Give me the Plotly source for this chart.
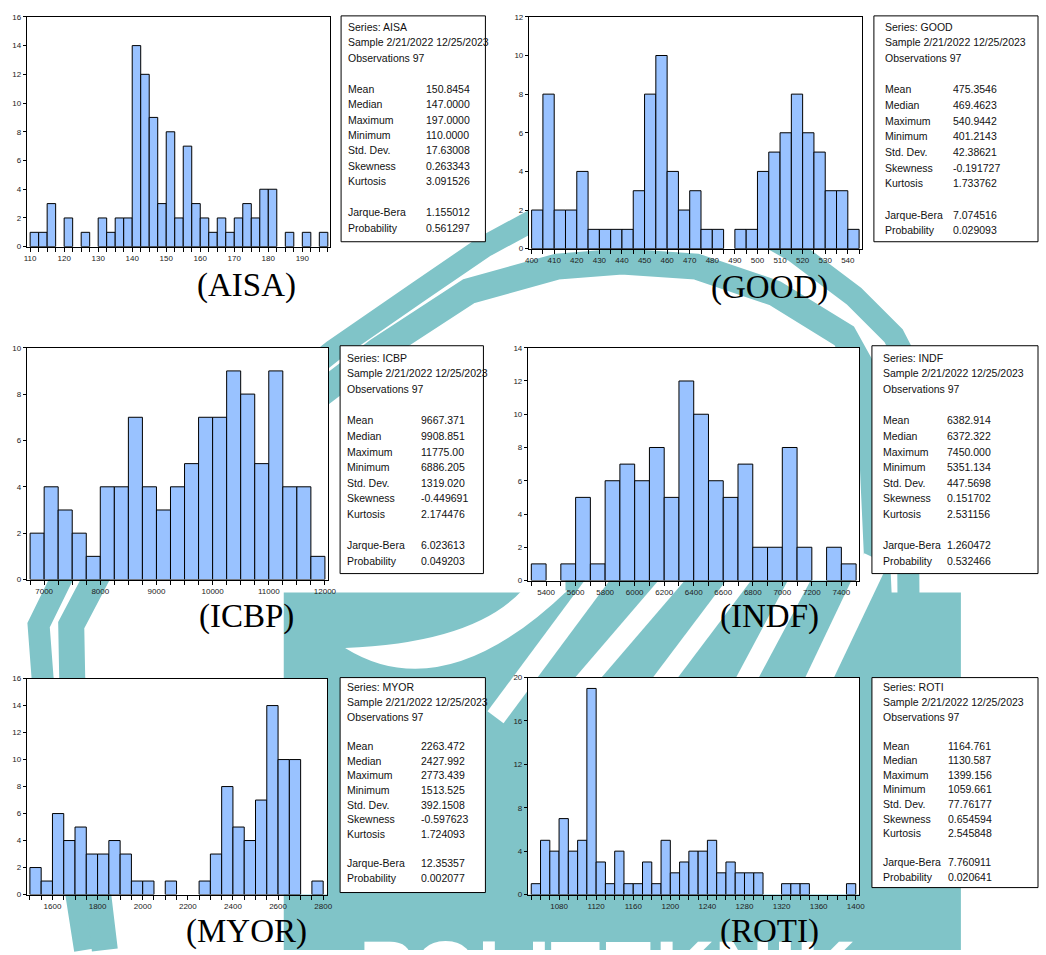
import plotly.graph_objects as go

W, H = 1046, 955

# ---------------- data ----------------
AISA_BIN_START, AISA_BIN_WIDTH = 110.0, 2.5
AISA_COUNTS = [1, 1, 3, 0, 2, 0, 1, 0, 2, 1, 2, 2, 14, 12, 9, 3, 8, 2, 7, 3, 2, 1, 2, 1,
               2, 3, 2, 4, 4, 0, 1, 0, 1, 0, 1]
GOOD_BIN_START, GOOD_BIN_WIDTH = 400.0, 5.0
GOOD_COUNTS = [2, 8, 2, 2, 4, 1, 1, 1, 1, 3, 8, 10, 4, 2, 3, 1, 1, 0, 1, 1, 4, 5, 6, 8, 6, 5, 3, 3, 1]
ICBP_BIN_START, ICBP_BIN_WIDTH = 6750.0, 250.0
ICBP_COUNTS = [2, 4, 3, 2, 1, 4, 4, 7, 4, 3, 4, 5, 7, 7, 9, 8, 5, 9, 4, 4, 1]
INDF_BIN_START, INDF_BIN_WIDTH = 5300.0, 100.0
INDF_COUNTS = [1, 0, 1, 5, 1, 6, 7, 6, 8, 5, 12, 10, 6, 5, 7, 2, 2, 8, 2, 0, 2, 1]
MYOR_BIN_START, MYOR_BIN_WIDTH = 1500.0, 50.0
MYOR_COUNTS = [2, 1, 6, 4, 5, 3, 3, 4, 3, 1, 1, 0, 1, 0, 0, 1, 3, 8, 5, 4, 7, 14, 10, 10, 0, 1]
ROTI_BIN_START, ROTI_BIN_WIDTH = 1050.0, 10.0
ROTI_COUNTS = [1, 5, 4, 7, 4, 5, 19, 3, 1, 4, 1, 1, 3, 1, 5, 2, 3, 4, 4, 5, 2, 3, 2, 2, 2,
               0, 0, 1, 1, 1, 0, 0, 0, 0, 1]

SAMPLE_TEXT = "Sample 2/21/2022 12/25/2023"
OBS_TEXT = "Observations 97"
STAT_LABELS = ["Mean", "Median", "Maximum", "Minimum", "Std. Dev.", "Skewness", "Kurtosis",
               "Jarque-Bera", "Probability"]
AISA_STATS = ["150.8454", "147.0000", "197.0000", "110.0000", "17.63008", "0.263343", "3.091526", "1.155012", "0.561297"]
GOOD_STATS = ["475.3546", "469.4623", "540.9442", "401.2143", "42.38621", "-0.191727", "1.733762", "7.074516", "0.029093"]
ICBP_STATS = ["9667.371", "9908.851", "11775.00", "6886.205", "1319.020", "-0.449691", "2.174476", "6.023613", "0.049203"]
INDF_STATS = ["6382.914", "6372.322", "7450.000", "5351.134", "447.5698", "0.151702", "2.531156", "1.260472", "0.532466"]
MYOR_STATS = ["2263.472", "2427.992", "2773.439", "1513.525", "392.1508", "-0.597623", "1.724093", "12.35357", "0.002077"]
ROTI_STATS = ["1164.761", "1130.587", "1399.156", "1059.661", "77.76177", "0.654594", "2.545848", "7.760911", "0.020641"]

# axis settings: (x range, major tick0, major dtick, y max, y dtick)
AISA_AXIS = ([109.0, 198.2], 110, 10, 16, 2)
GOOD_AXIS = ([398.8, 546.3], 400, 10, 12, 2)
ICBP_AXIS = ([6690, 12059], 7000, 1000, 10, 2)
INDF_AXIS = ([5277, 7520], 5400, 200, 14, 2)
MYOR_AXIS = ([1486, 2818], 1600, 200, 16, 2)
ROTI_AXIS = ([1046.4, 1403.6], 1080, 40, 20, 4)

PANELS = [
    ("AISA", AISA_BIN_START, AISA_BIN_WIDTH, AISA_COUNTS, AISA_STATS, AISA_AXIS),
    ("GOOD", GOOD_BIN_START, GOOD_BIN_WIDTH, GOOD_COUNTS, GOOD_STATS, GOOD_AXIS),
    ("ICBP", ICBP_BIN_START, ICBP_BIN_WIDTH, ICBP_COUNTS, ICBP_STATS, ICBP_AXIS),
    ("INDF", INDF_BIN_START, INDF_BIN_WIDTH, INDF_COUNTS, INDF_STATS, INDF_AXIS),
    ("MYOR", MYOR_BIN_START, MYOR_BIN_WIDTH, MYOR_COUNTS, MYOR_STATS, MYOR_AXIS),
    ("ROTI", ROTI_BIN_START, ROTI_BIN_WIDTH, ROTI_COUNTS, ROTI_STATS, ROTI_AXIS),
]

# ---------------- layout (pixel boxes) ----------------
PLOT_BOX = [(23, 13, 330, 245), (531, 13, 868, 247), (23, 347, 328, 581),
            (530, 347, 865, 582), (23, 681, 327, 899), (530, 680, 865, 899)]
STAT_BOX = [(341, 12, 487, 240), (880, 12, 1046, 240), (340, 345, 485, 575),
            (878, 345, 1046, 575), (340, 680, 487, 897), (878, 680, 1046, 892)]
STAT_COLS = [(5, 84), (9, 78), (5, 80), (9, 74), (5, 80), (9, 75)]
STAT_FIRST = [23, 23, 357, 357, 690, 690]
STAT_STEP = [15.6, 15.8, 15.8, 15.8, 14.8, 14.7]
LABEL_POS = [(245, 284), (774, 286), (245, 618), (774, 618), (245, 936), (774, 936)]

FILL = "#99C2FF"
TEAL = "rgb(128,196,200)"
FONT = "Liberation Sans, Arial, sans-serif"


def px(x):
    return x / W


def py(y):
    return 1 - y / H


def P(x, y):
    return f"{px(x):.5f},{py(y):.5f}"


def poly(points, close=False):
    s = "M " + " L ".join(P(*p) for p in points)
    return s + (" Z" if close else "")


fig = go.Figure()
shapes = []
annotations = []

# ---------------- background watermark (decoration) ----------------
BAND_OUTER = [(82, 955), (39, 680), (35, 627), (63, 570), (200, 455), (333, 350), (420, 290),
              (486, 245), (560, 205), (640, 190), (720, 205), (800, 250), (860, 295),
              (900, 335), (913, 360), (915, 600)]
BAND_INNER = [(102, 955), (69, 680), (68, 627), (98, 570), (240, 455), (378, 350), (470, 290),
              (560, 265), (625, 260), (700, 265), (780, 292), (850, 335), (875, 380), (885, 600)]
shapes.append(dict(type="path", path=poly(BAND_OUTER), line=dict(color=TEAL, width=22),
                   xref="paper", yref="paper", layer="below"))
shapes.append(dict(type="path", path=poly(BAND_INNER), line=dict(color=TEAL, width=26),
                   xref="paper", yref="paper", layer="below"))
shapes.append(dict(type="path", path=poly([(283, 594), (968, 594), (968, 955), (283, 955)], True),
                   line=dict(width=0), fillcolor=TEAL, xref="paper", yref="paper", layer="below"))
shapes.append(dict(type="path", path=poly([(568, 566), (872, 566), (872, 596), (568, 596)], True),
                   line=dict(width=0), fillcolor=TEAL, xref="paper", yref="paper", layer="below"))
for (xt, xb, wd) in [(591, 527, 20), (665, 591, 20), (734, 669, 20), (798, 752, 20), (866, 825, 26)]:
    slope = (xb - xt) / 86.0
    pts = [(xt + slope * (560 - 594), 560), (xt + slope * (720 - 594), 720)]
    shapes.append(dict(type="path", path=poly(pts), line=dict(color="white", width=wd),
                       xref="paper", yref="paper", layer="below"))
crescent = ("M " + P(345, 650) + " Q " + P(445, 712) + " " + P(570, 592) +
            " L " + P(524, 592) + " Q " + P(475, 645) + " " + P(345, 650) + " Z")
shapes.append(dict(type="path", path=crescent, line=dict(width=0), fillcolor="white",
                   xref="paper", yref="paper", layer="below"))
annotations.append(dict(text="<b>POLITEKNIK</b>", x=px(610), y=py(975), xref="paper", yref="paper",
                        xanchor="center", yanchor="middle", showarrow=False,
                        font=dict(family=FONT, size=82, color="white")))

# ---------------- panels ----------------
for i, (name, b0, bw, counts, stats, axis) in enumerate(PANELS):
    k = i + 1
    xr, t0, dt, ymax, ydt = axis
    x0, y0, x1, y1 = PLOT_BOX[i]
    centers = [b0 + bw * (j + 0.5) for j, c in enumerate(counts) if c > 0]
    vals = [c for c in counts if c > 0]
    fig.add_trace(go.Bar(x=centers, y=vals, width=bw,
                         marker=dict(color=FILL, line=dict(color="black", width=1)),
                         xaxis=f"x{k}", yaxis=f"y{k}", showlegend=False, hoverinfo="skip"))
    common = dict(showline=True, linecolor="black", linewidth=1, mirror=True, showgrid=False,
                  zeroline=False, ticks="outside", tickcolor="black", tickwidth=1,
                  tickformat="d", tickfont=dict(family=FONT, size=8, color="#222"))
    fig.update_layout(**{
        f"xaxis{k}": dict(domain=[px(x0), px(x1)], anchor=f"y{k}", range=xr, tickmode="linear",
                          tick0=t0, dtick=dt, ticklen=4,
                          minor=dict(tick0=b0, dtick=bw, ticks="outside", ticklen=4,
                                     tickcolor="black", tickwidth=1, showgrid=False),
                          **common),
        f"yaxis{k}": dict(domain=[py(y1), py(y0)], anchor=f"x{k}", range=[0, ymax],
                          tickmode="linear", tick0=0, dtick=ydt, ticklen=3, **common),
    })
    # white plot area over the watermark
    shapes.append(dict(type="rect", xref="paper", yref="paper", x0=px(x0), x1=px(x1),
                       y0=py(y1), y1=py(y0), fillcolor="white", line=dict(width=0),
                       layer="below"))
    # statistics box
    sx0, sy0, sx1, sy1 = STAT_BOX[i]
    shapes.append(dict(type="rect", xref="paper", yref="paper", x0=px(sx0), x1=px(sx1),
                       y0=py(sy1), y1=py(sy0), fillcolor="white",
                       line=dict(color="black", width=1), layer="below"))
    lx = sx0 + STAT_COLS[i][0]
    vx = sx0 + STAT_COLS[i][1]
    first, step = STAT_FIRST[i], STAT_STEP[i]
    header = [f"Series: {name}", SAMPLE_TEXT, OBS_TEXT]
    rows = [(r, t, None) for r, t in enumerate(header)]
    row_idx = [4, 5, 6, 7, 8, 9, 10, 12, 13]
    rows += [(r, lab, val) for r, lab, val in zip(row_idx, STAT_LABELS, stats)]
    for r, lab, val in rows:
        yy = first + step * r
        annotations.append(dict(text=lab, x=px(lx), y=py(yy), xref="paper", yref="paper",
                                xanchor="left", yanchor="middle", showarrow=False,
                                font=dict(family=FONT, size=10.5, color="#111")))
        if val is not None:
            annotations.append(dict(text=val, x=px(vx), y=py(yy), xref="paper", yref="paper",
                                    xanchor="left", yanchor="middle", showarrow=False,
                                    font=dict(family=FONT, size=10.5, color="#111")))
    # panel caption
    lxp, lyp = LABEL_POS[i]
    annotations.append(dict(text=f"({name})", x=px(lxp), y=py(lyp), xref="paper", yref="paper",
                            xanchor="center", yanchor="middle", showarrow=False,
                            font=dict(family="Liberation Serif, Times New Roman, serif",
                                      size=33, color="black")))

fig.update_layout(width=W, height=H, margin=dict(l=0, r=0, t=0, b=0),
                  paper_bgcolor="white", plot_bgcolor="rgba(0,0,0,0)",
                  showlegend=False, barmode="overlay",
                  shapes=shapes, annotations=annotations)

fig.write_html("out.html", config={"displayModeBar": False, "staticPlot": True},
               post_script="document.body.style.margin='0px';document.body.style.overflow='hidden';")
